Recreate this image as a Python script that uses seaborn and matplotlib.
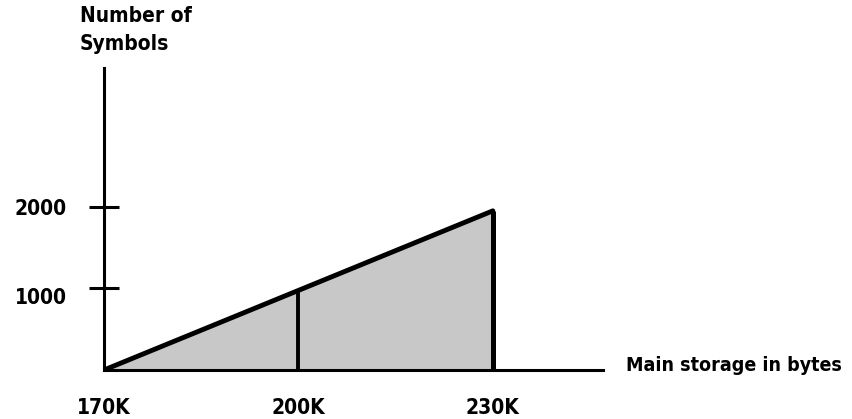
import matplotlib
matplotlib.use("Agg")
import matplotlib.pyplot as plt
import seaborn as sns
import pandas as pd

# ==================================================
# Data
# ==================================================
storage_k = [170, 200, 230]
symbols = [0, 975, 1950]
x_ticks = [170, 200, 230]
x_tick_labels = ["170K", "200K", "230K"]
y_ticks = [1000, 2000]
y_tick_labels = ["1000", "2000"]


def plot():
    sns.set_style("white")
    plt.rcParams['font.family'] = ['DejaVu Sans']
    plt.rcParams['font.stretch'] = 'condensed'
    plt.rcParams['text.color'] = 'black'
    plt.rcParams['xtick.color'] = 'black'
    plt.rcParams['ytick.color'] = 'black'

    df = pd.DataFrame({"storage": storage_k, "symbols": symbols})

    fig = plt.figure(figsize=(8.53, 4.19), dpi=100)
    ax = fig.add_axes([104 / 853, 49 / 419, 499 / 853, 302 / 419])

    # shaded area under the line
    ax.fill_between(df["storage"], 0, df["symbols"],
                    color='#c8c8c8', linewidth=0, zorder=1)

    sns.lineplot(data=df, x="storage", y="symbols", ax=ax,
                 color='black', linewidth=3.5, zorder=3)

    # vertical edges at 200K and 230K
    ax.vlines(df["storage"][1:], 0, df["symbols"][1:],
              color='black', linewidth=[2.8, 3.6], zorder=3)

    ax.set_xlim(170, 247)
    ax.set_ylim(0, 3700)

    for s in ["top", "right"]:
        ax.spines[s].set_visible(False)
    for s in ["left", "bottom"]:
        ax.spines[s].set_linewidth(2.2)
        ax.spines[s].set_color('black')

    ax.set_xticks(x_ticks)
    ax.set_xticklabels(x_tick_labels, fontsize=15, fontweight='bold',
                       fontstretch='condensed')
    ax.set_yticks(y_ticks)
    ax.set_yticklabels(y_tick_labels, fontsize=15, fontweight='bold',
                       fontstretch='condensed')
    # the 1000 label sits a bit below its tick in the original
    ax.get_yticklabels()[0].set_va('top')

    ax.tick_params(axis='x', length=0, pad=20)
    ax.tick_params(axis='y', direction='inout', length=22, width=2.2,
                   pad=16, left=True)

    ax.set_xlabel("")
    ax.set_ylabel("")

    fig.text(80 / 853, 1 - 30 / 419, "Number of\nSymbols",
             fontsize=15, fontweight='bold', fontstretch='condensed',
             va='center', ha='left', linespacing=1.45)
    fig.text(626 / 853, 1 - 365 / 419, "Main storage in bytes",
             fontsize=14, fontweight='bold', fontstretch='condensed',
             va='center', ha='left')

    fig.savefig("out.png", dpi=100)


if __name__ == "__main__":
    plot()
